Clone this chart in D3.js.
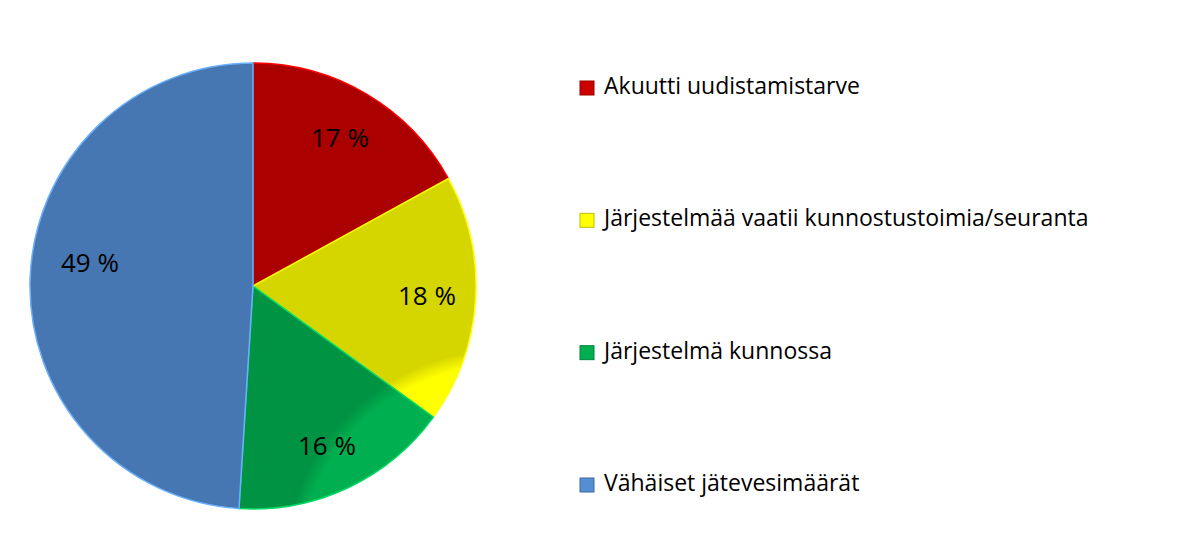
<!DOCTYPE html>
<html><head><meta charset="utf-8">
<script src="https://cdn.jsdelivr.net/npm/d3@7"></script>
<style>body{margin:0;background:#fff}text{font-family:"Open Sans","Liberation Sans",sans-serif;fill:#000}</style>
</head><body><div id="chart"></div>
<script>
var categories = ["Akuutti uudistamistarve", "Järjestelmää vaatii kunnostustoimia/seuranta", "Järjestelmä kunnossa", "Vähäiset jätevesimäärät"];
var values = [17, 18, 16, 49];
var colors = ["#CC0000", "#FFFF00", "#00B050", "#558ED5"];
var labelPos = [[340, 140], [427, 298], [327, 448], [90, 265]];

var width = 1201, height = 544, cx = 253, cy = 286, r = 223;
var svg = d3.select("#chart").append("svg").attr("width", width).attr("height", height);
var defs = svg.append("defs");
colors.forEach(function(c, i) {
  var g = defs.append("radialGradient").attr("id", "g" + i)
    .attr("cx", cx).attr("cy", cy).attr("r", r).attr("gradientUnits", "userSpaceOnUse");
  g.append("stop").attr("offset", "0.93").attr("stop-color", c);
  g.append("stop").attr("offset", "1").attr("stop-color", d3.color(c).darker(0.5));
});

var pie = d3.pie().sort(null).value(function(d) { return d; });
var arc = d3.arc().innerRadius(0).outerRadius(r);
var g = svg.append("g").attr("transform", "translate(" + cx + "," + cy + ")");
g.selectAll("path").data(pie(values)).enter().append("path")
  .attr("d", arc)
  .attr("fill", function(d, i) { return "url(#g" + i + ")"; })
  .attr("stroke", function(d, i) { return d3.color(colors[i]).brighter(0.6); })
  .attr("stroke-width", 1.5);

svg.selectAll(".lbl").data(values).enter().append("text")
  .attr("x", function(d, i) { return labelPos[i][0]; })
  .attr("y", function(d, i) { return labelPos[i][1]; })
  .attr("text-anchor", "middle").attr("dominant-baseline", "middle")
  .style("font-size", "26px")
  .text(function(d) { return d + " %"; });

var y = d3.scalePoint().domain(categories).range([88, 485]);
var leg = svg.selectAll(".leg").data(categories).enter().append("g")
  .attr("transform", function(d) { return "translate(580," + y(d) + ")"; });
leg.append("rect").attr("x", 0).attr("y", -7).attr("width", 14).attr("height", 14)
  .attr("fill", function(d, i) { return colors[i]; })
  .attr("stroke", function(d, i) { return d3.color(colors[i]).darker(0.8); });
leg.append("text").attr("x", 24).attr("y", 0).attr("dominant-baseline", "middle")
  .style("font-size", "23px").text(function(d) { return d; });
</script></body></html>
